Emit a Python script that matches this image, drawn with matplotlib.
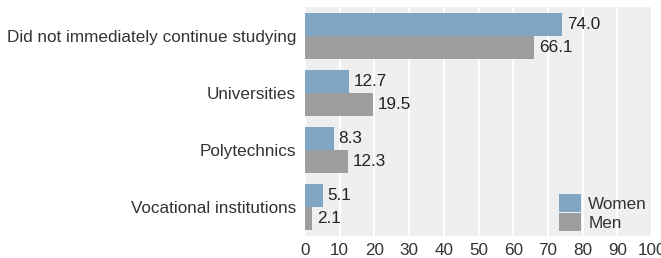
import matplotlib
matplotlib.use("Agg")
import matplotlib.pyplot as plt
import numpy as np

categories = ["Did not immediately continue studying", "Universities", "Polytechnics", "Vocational institutions"]
women = [74.0, 12.7, 8.3, 5.1]
men = [66.1, 19.5, 12.3, 2.1]
xticks = [0, 10, 20, 30, 40, 50, 60, 70, 80, 90, 100]

plt.rcParams['font.family'] = ['Liberation Sans', 'DejaVu Sans']
fig = plt.figure(figsize=(6.61, 2.58), dpi=100)
ax = fig.add_axes([305/661, 1-236/258, (652-305)/661, (236-7)/258])
ax.set_facecolor('#efefef')

fs = 12.3
y = np.arange(len(categories))
h = 0.4
cw = '#7fa7c5'
cm = '#9d9d9d'
ax.barh(y - h/2, women, height=h, color=cw, label='Women', zorder=2)
ax.barh(y + h/2, men, height=h, color=cm, label='Men', zorder=2)
for yi, v in zip(y, women):
    ax.text(v + 1.4, yi - h/2, f"{v:.1f}", va='center', ha='left', fontsize=fs, color='#222222', zorder=3)
for yi, v in zip(y, men):
    ax.text(v + 1.4, yi + h/2, f"{v:.1f}", va='center', ha='left', fontsize=fs, color='#222222', zorder=3)

ax.set_xlim(0, 100)
ax.set_ylim(len(categories) - 0.5, -0.5)
ax.set_xticks(xticks)
ax.set_xticklabels([str(t) for t in xticks])
ax.set_yticks(y)
ax.set_yticklabels(categories)
ax.grid(axis='x', color='white', linewidth=1.5, zorder=1)
ax.set_axisbelow(True)
for s in ax.spines.values():
    s.set_visible(False)
ax.tick_params(axis='both', length=0, labelsize=fs, colors='#333333')
ax.tick_params(axis='y', pad=6.5)
ax.tick_params(axis='x', pad=5)

leg = ax.legend(loc='lower right', frameon=False, fontsize=fs, handlelength=1.3, handleheight=1.2,
                handletextpad=0.4, labelspacing=0.1, borderaxespad=0.1, borderpad=0.2)
for t in leg.get_texts():
    t.set_color('#333333')

fig.savefig('out.png', dpi=100)
